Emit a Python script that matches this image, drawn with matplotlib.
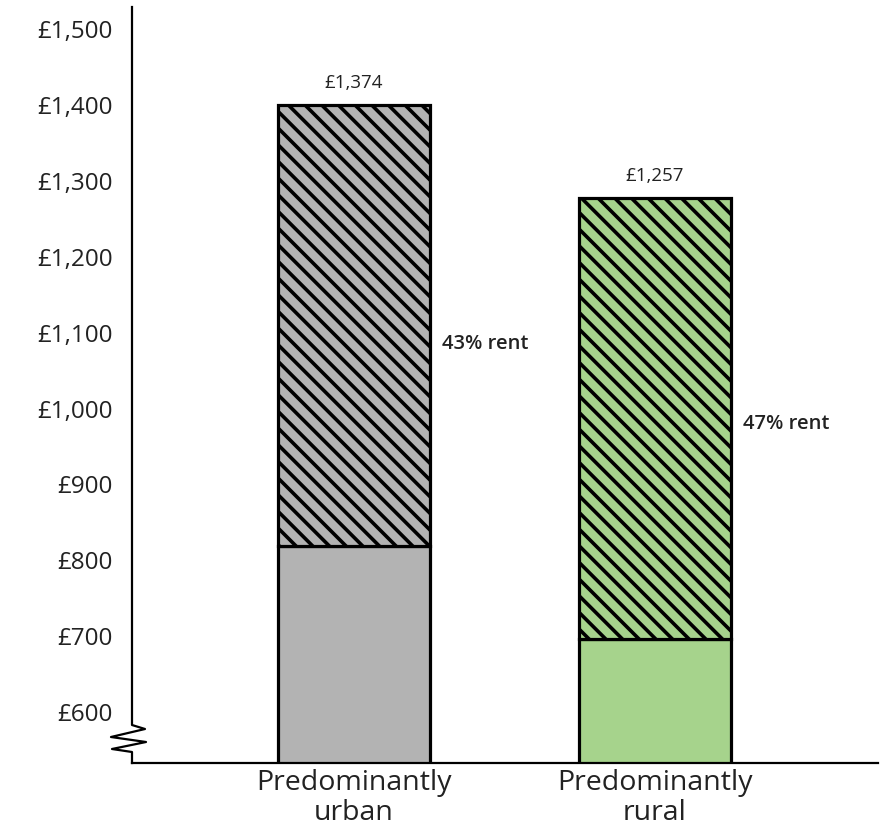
import numpy as np
import matplotlib
matplotlib.use("Agg")
import matplotlib.pyplot as plt

# data (bar heights as drawn, labels as printed)
categories = ["Predominantly\nurban", "Predominantly\nrural"]
other_costs = [819, 697]          # top of solid segment
totals_drawn = [1400, 1278]       # top of hatched segment
total_labels = ["£1,374", "£1,257"]
rent_labels = ["43% rent", "47% rent"]
rent_label_y = [1085, 980]
yticks = [600, 700, 800, 900, 1000, 1100, 1200, 1300, 1400, 1500]
solid_colors = ["#b3b3b3", "#a6d38c"]

plt.rcParams['font.family'] = ['Open Sans', 'DejaVu Sans']
plt.rcParams['hatch.linewidth'] = 2.6
plt.rcParams['hatch.color'] = 'black'

fig = plt.figure(figsize=(8.81, 8.30), dpi=100)
ax = fig.add_axes([132 / 881, 1 - 763 / 830, 746 / 881, 756 / 830])

x = np.arange(len(categories))
width = 0.505
rent = [t - o for t, o in zip(totals_drawn, other_costs)]

ax.bar(x, other_costs, width, color=solid_colors, edgecolor='black', linewidth=2.3, zorder=2)
ax.bar(x, rent, width, bottom=other_costs, color=solid_colors, edgecolor='black',
       linewidth=2.3, hatch='\\\\', zorder=2)

for xi, t, lab in zip(x, totals_drawn, total_labels):
    ax.text(xi, t + 17, lab, ha='center', va='bottom', fontsize=13.5, color='#222222')
for xi, yv, lab in zip(x, rent_label_y, rent_labels):
    ax.text(xi + width / 2 + 0.04, yv, lab, ha='left', va='center', fontsize=14.5,
            fontweight='semibold', color='#222222')

ax.set_xlim(-0.738, 1.741)
ax.set_ylim(533, 1529)
ax.set_yticks(yticks)
ax.set_yticklabels([f"£{v:,}" for v in yticks], fontsize=17.5, color='#222222')
ax.set_xticks(x)
ax.set_xticklabels(categories, fontsize=20.5, color='#222222', linespacing=1.1)
ax.tick_params(axis='y', length=0, pad=14)
ax.tick_params(axis='x', length=0, pad=4)

for s in ['top', 'right', 'left']:
    ax.spines[s].set_visible(False)
ax.spines['bottom'].set_linewidth(1.6)

# left axis line with a zigzag break near the bottom (figure pixel coords)
px = [132, 132, 145, 111, 146, 112, 132, 132]
py = [7, 725, 729, 737, 742, 749, 752, 763]
fig.add_artist(plt.Line2D([p / 881 for p in px], [1 - p / 830 for p in py],
                          transform=fig.transFigure, color='black', linewidth=1.6))

fig.savefig("out.png", dpi=100)
